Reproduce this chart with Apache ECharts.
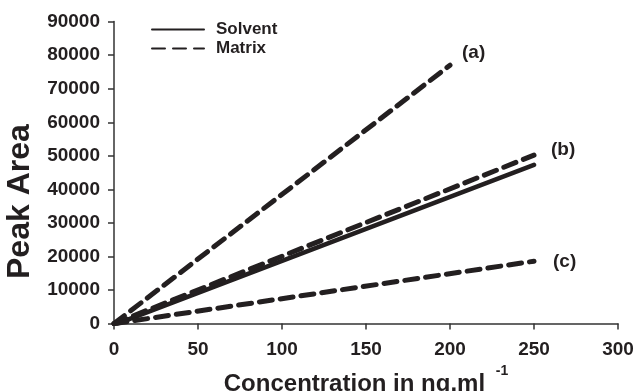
<!DOCTYPE html>
<html>
<head>
<meta charset="utf-8">
<script src="https://cdn.jsdelivr.net/npm/echarts@6/dist/echarts.min.js"></script>
<style>
  html, body { margin: 0; padding: 0; background: #fff; }
  #chart { width: 633px; height: 391px; }
</style>
</head>
<body>
<div id="chart"></div>
<script>
// concentrations (ng/ml) and peak areas
const concA = [0, 200];
const matrixA = [0, 77000];
const concB = [0, 250];
const matrixB = [0, 50200];
const concSolvent = [2, 250];
const solventB = [0, 47300];
const concC = [0, 250];
const matrixC = [0, 18600];
const curveNames = ["(a)", "(b)", "(c)"];
const legendNames = ["Solvent", "Matrix"];

const ink = "#231f20";
const font = "Liberation Sans, Arial, sans-serif";

const pairs = (xs, ys) => xs.map((x, i) => [x, ys[i]]);

const dashed = { color: ink, width: 5, type: [13, 8], cap: "round" };
const solid = { color: ink, width: 4.5, cap: "round" };

const endLabel = (text, distance, offset) => ({
	show: true,
	formatter: text,
	distance: distance,
	offset: offset,
	color: ink,
	fontFamily: font,
	fontWeight: "bold",
	fontSize: 19,
});

const chart = echarts.init(document.getElementById("chart"));

const option = {
	animation: false,
	color: [ink],
	grid: { left: 114, right: 15, top: 21.6, bottom: 67.4, containLabel: false, outerBoundsMode: "none" },
	legend: {
		data: legendNames,
		orient: "vertical",
		left: 146,
		top: 16,
		itemWidth: 52,
		itemHeight: 14,
		itemGap: 2,
		itemStyle: { opacity: 0 },
		textStyle: { color: ink, fontFamily: font, fontWeight: "bold", fontSize: 17, padding: [0, 0, 0, 7] },
	},
	xAxis: {
		type: "value",
		min: 0,
		max: 300,
		interval: 50,
		name: "{t|Concentration in ng.ml }{s|-1}",
		nameLocation: "middle",
		nameGap: 33,
		nameTextStyle: {
			rich: {
				t: { color: ink, fontFamily: font, fontWeight: "bold", fontSize: 24, lineHeight: 40 },
				s: { color: ink, fontFamily: font, fontWeight: "bold", fontSize: 14, lineHeight: 14, verticalAlign: "top", padding: [0, 0, 0, 4] },
			},
		},
		axisLine: { lineStyle: { color: "#333", width: 1.5 } },
		axisTick: { length: 6, lineStyle: { color: "#333", width: 1.5 } },
		axisLabel: { color: ink, fontFamily: font, fontWeight: "bold", fontSize: 19, margin: 17 },
		splitLine: { show: false },
	},
	yAxis: {
		type: "value",
		min: 0,
		max: 90000,
		interval: 10000,
		name: "Peak Area",
		nameLocation: "middle",
		nameGap: 72,
		nameTextStyle: { color: ink, fontFamily: font, fontWeight: "bold", fontSize: 32, padding: [0, 58, 0, 0] },
		axisLine: { show: true, lineStyle: { color: "#333", width: 1.5 } },
		axisTick: { show: true, length: 6, lineStyle: { color: "#333", width: 1.5 } },
		axisLabel: {
			color: ink, fontFamily: font, fontWeight: "bold", fontSize: 19, margin: 14,
			formatter: (v) => String(v),
		},
		splitLine: { show: false },
	},
	series: [
		{
			name: "Solvent",
			type: "line",
			data: pairs(concSolvent, solventB),
			showSymbol: false,
			symbol: "none",
			lineStyle: solid,
			z: 3,
		},
		{
			name: "Matrix",
			type: "line",
			data: pairs(concA, matrixA),
			showSymbol: false,
			symbol: "none",
			lineStyle: dashed,
			endLabel: endLabel(curveNames[0], 12, [0, -12]),
		},
		{
			name: "Matrix",
			type: "line",
			data: pairs(concB, matrixB),
			showSymbol: false,
			symbol: "none",
			lineStyle: dashed,
			endLabel: endLabel(curveNames[1], 17, [0, -5]),
		},
		{
			name: "Matrix",
			type: "line",
			data: pairs(concC, matrixC),
			showSymbol: false,
			symbol: "none",
			lineStyle: dashed,
			endLabel: endLabel(curveNames[2], 19, [0, 1]),
		},
	],
};

chart.setOption(option);
</script>
</body>
</html>
